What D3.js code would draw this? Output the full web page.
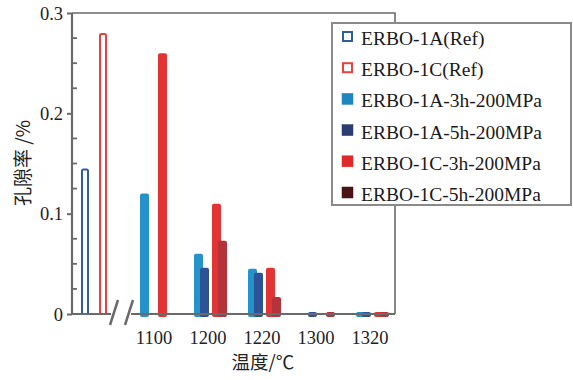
<!DOCTYPE html>
<html>
<head>
<meta charset="utf-8">
<script src="https://cdn.jsdelivr.net/npm/d3@7/dist/d3.min.js"></script>
<style>
  html, body { margin: 0; padding: 0; background: #fff; }
  svg { display: block; }
</style>
</head>
<body>
<svg id="chart" width="573" height="380"></svg>
<script>
// Porosity (%) after HIP treatment at each temperature
const temps = ["1100", "1200", "1220", "1300", "1320"];
const a3h = [0.12, 0.06, 0.045, null, 0.002];
const a5h = [null, 0.046, 0.041, 0.002, 0.002];
const c3h = [0.26, 0.11, 0.046, null, 0.002];
const c5h = [null, 0.073, 0.017, 0.002, 0.002];

// Reference (as-built) porosity
const refNames = ["ERBO-1A(Ref)", "ERBO-1C(Ref)"];
const refValues = [0.145, 0.28];
const refColors = ["#2f5d9e", "#e8413f"];

const seriesNames = ["ERBO-1A-3h-200MPa", "ERBO-1A-5h-200MPa", "ERBO-1C-3h-200MPa", "ERBO-1C-5h-200MPa"];
const seriesValues = [a3h, a5h, c3h, c5h];
const seriesColors = ["#2592cc", "#2b5395", "#e23434", "#b5333b"];
const legendSwatch = ["#1f86c0", "#2a3d6e", "#e02a2a", "#4a1216"];

const yTicks = [0, 0.1, 0.2, 0.3];

const svg = d3.select("#chart");
const serif = "'Liberation Serif', 'Times New Roman', serif";
const cjk = "'Noto Sans CJK SC', sans-serif";
const axisColor = "#6a6a6a";

const plotLeft = 72, plotTop = 13, plotBottom = 314, plotRight = 395;

const y = d3.scaleLinear().domain([0, 0.3]).range([plotBottom, plotTop]);
const x = d3.scaleBand().domain(temps).range([127, 397]).paddingInner(0).paddingOuter(0);
const xRef = d3.scalePoint().domain(refNames).range([85, 103]);

// bar placement inside each temperature band: material pair, then time pair
const barW = 9;
const materialShift = [0, 18];
const timeShift = [0, 6];
const firstOffset = 13;
function barX(t, s) {
  return x(t) + firstOffset + materialShift[Math.floor(s / 2)] + timeShift[s % 2];
}

// frame (top and right edges)
svg.append("path")
  .attr("d", `M${plotLeft},${plotTop}H${plotRight}V${plotBottom}`)
  .attr("fill", "none")
  .attr("stroke", axisColor)
  .attr("stroke-width", 1.6);

// reference bars (open)
svg.append("g").selectAll("rect")
  .data(refValues)
  .join("rect")
  .attr("x", (d, i) => xRef(refNames[i]) - 3)
  .attr("width", 6)
  .attr("y", d => y(d) + 1)
  .attr("height", d => plotBottom - y(d) - 1)
  .attr("rx", 1.5)
  .attr("fill", "#fff")
  .attr("stroke", (d, i) => refColors[i])
  .attr("stroke-width", 2);

// HIP bars
const barData = [];
seriesValues.forEach((vals, s) => {
  vals.forEach((v, i) => {
    if (v !== null) barData.push({ s, t: temps[i], v });
  });
});

svg.append("g").selectAll("rect")
  .data(barData)
  .join("rect")
  .attr("x", d => barX(d.t, d.s))
  .attr("width", barW)
  .attr("y", d => y(d.v))
  .attr("height", d => plotBottom + 3 - y(d.v))
  .attr("rx", 2)
  .attr("fill", d => seriesColors[d.s]);

// y axis with outer major ticks and inner minor ticks
const yAxisG = svg.append("g").attr("transform", `translate(${plotLeft},0)`);
yAxisG.call(d3.axisLeft(y).tickValues(yTicks).tickSize(5).tickFormat(d => d === 0 ? "0" : d3.format(".1f")(d)))
  .call(g => g.select(".domain").remove())
  .call(g => g.selectAll(".tick line").attr("stroke", axisColor).attr("stroke-width", 2))
  .call(g => g.selectAll(".tick text")
    .attr("font-family", serif).attr("font-size", 18.5).attr("fill", "#222")
    .attr("x", -9).attr("dy", "0.33em"));

const minor = d3.range(0.025, 0.3, 0.025).filter(v => Math.abs(v * 10 - Math.round(v * 10)) > 1e-6);
yAxisG.selectAll("line.minor")
  .data(minor)
  .join("line")
  .attr("class", "minor")
  .attr("x1", 0).attr("x2", 5)
  .attr("y1", d => y(d)).attr("y2", d => y(d))
  .attr("stroke", axisColor).attr("stroke-width", 1.8);

yAxisG.append("line")
  .attr("x1", 0).attr("x2", 0)
  .attr("y1", plotTop).attr("y2", plotBottom)
  .attr("stroke", axisColor).attr("stroke-width", 2.2);

// broken baseline
svg.append("line").attr("x1", plotLeft).attr("x2", 111).attr("y1", plotBottom).attr("y2", plotBottom)
  .attr("stroke", axisColor).attr("stroke-width", 2.2);
svg.append("line").attr("x1", 131).attr("x2", plotRight).attr("y1", plotBottom).attr("y2", plotBottom)
  .attr("stroke", axisColor).attr("stroke-width", 2.2);
[[110, 118], [125, 133]].forEach(([a, b]) => {
  svg.append("line").attr("x1", a).attr("y1", 325).attr("x2", b).attr("y2", 300)
    .attr("stroke", axisColor).attr("stroke-width", 2.5);
});

// x axis labels
svg.append("g").attr("transform", `translate(0,${plotBottom})`)
  .call(d3.axisBottom(x).tickSize(0).tickPadding(0))
  .call(g => g.select(".domain").remove())
  .call(g => g.selectAll(".tick text")
    .attr("font-family", serif).attr("font-size", 18.5).attr("fill", "#222")
    .attr("y", 23.5).attr("dy", "0.35em"));

// axis titles
svg.append("text")
  .attr("x", 263).attr("y", 361)
  .attr("text-anchor", "middle").attr("dominant-baseline", "central")
  .attr("font-family", cjk).attr("font-size", 18.5).attr("fill", "#222")
  .text("温度/℃");

svg.append("text")
  .attr("transform", "translate(21,163) rotate(-90)")
  .attr("text-anchor", "middle").attr("dominant-baseline", "central")
  .attr("font-family", cjk).attr("font-size", 19).attr("fill", "#222")
  .text("孔隙率 /%");

// legend
const lg = svg.append("g");
lg.append("rect")
  .attr("x", 332).attr("y", 23).attr("width", 239).attr("height", 182)
  .attr("fill", "#fff").attr("stroke", "#8a8a8a").attr("stroke-width", 2);

const legendItems = [
  { name: refNames[0], open: true, color: refColors[0] },
  { name: refNames[1], open: true, color: refColors[1] },
  ...seriesNames.map((n, i) => ({ name: n, open: false, color: legendSwatch[i] }))
];
const row = lg.selectAll("g.item")
  .data(legendItems)
  .join("g")
  .attr("class", "item")
  .attr("transform", (d, i) => `translate(0,${37 + i * 31.2})`);
row.append("rect")
  .attr("x", d => d.open ? 343 : 342)
  .attr("y", d => d.open ? -5 : -6)
  .attr("width", d => d.open ? 9 : 11)
  .attr("height", d => d.open ? 9 : 11)
  .attr("fill", d => d.open ? "#fff" : d.color)
  .attr("stroke", d => d.color)
  .attr("stroke-width", d => d.open ? 2 : 0.5);
row.append("text")
  .attr("x", 361).attr("y", 1.5)
  .attr("dominant-baseline", "central")
  .attr("font-family", serif).attr("font-size", 19.5).attr("fill", "#1a1a1a")
  .text(d => d.name);
</script>
</body>
</html>
